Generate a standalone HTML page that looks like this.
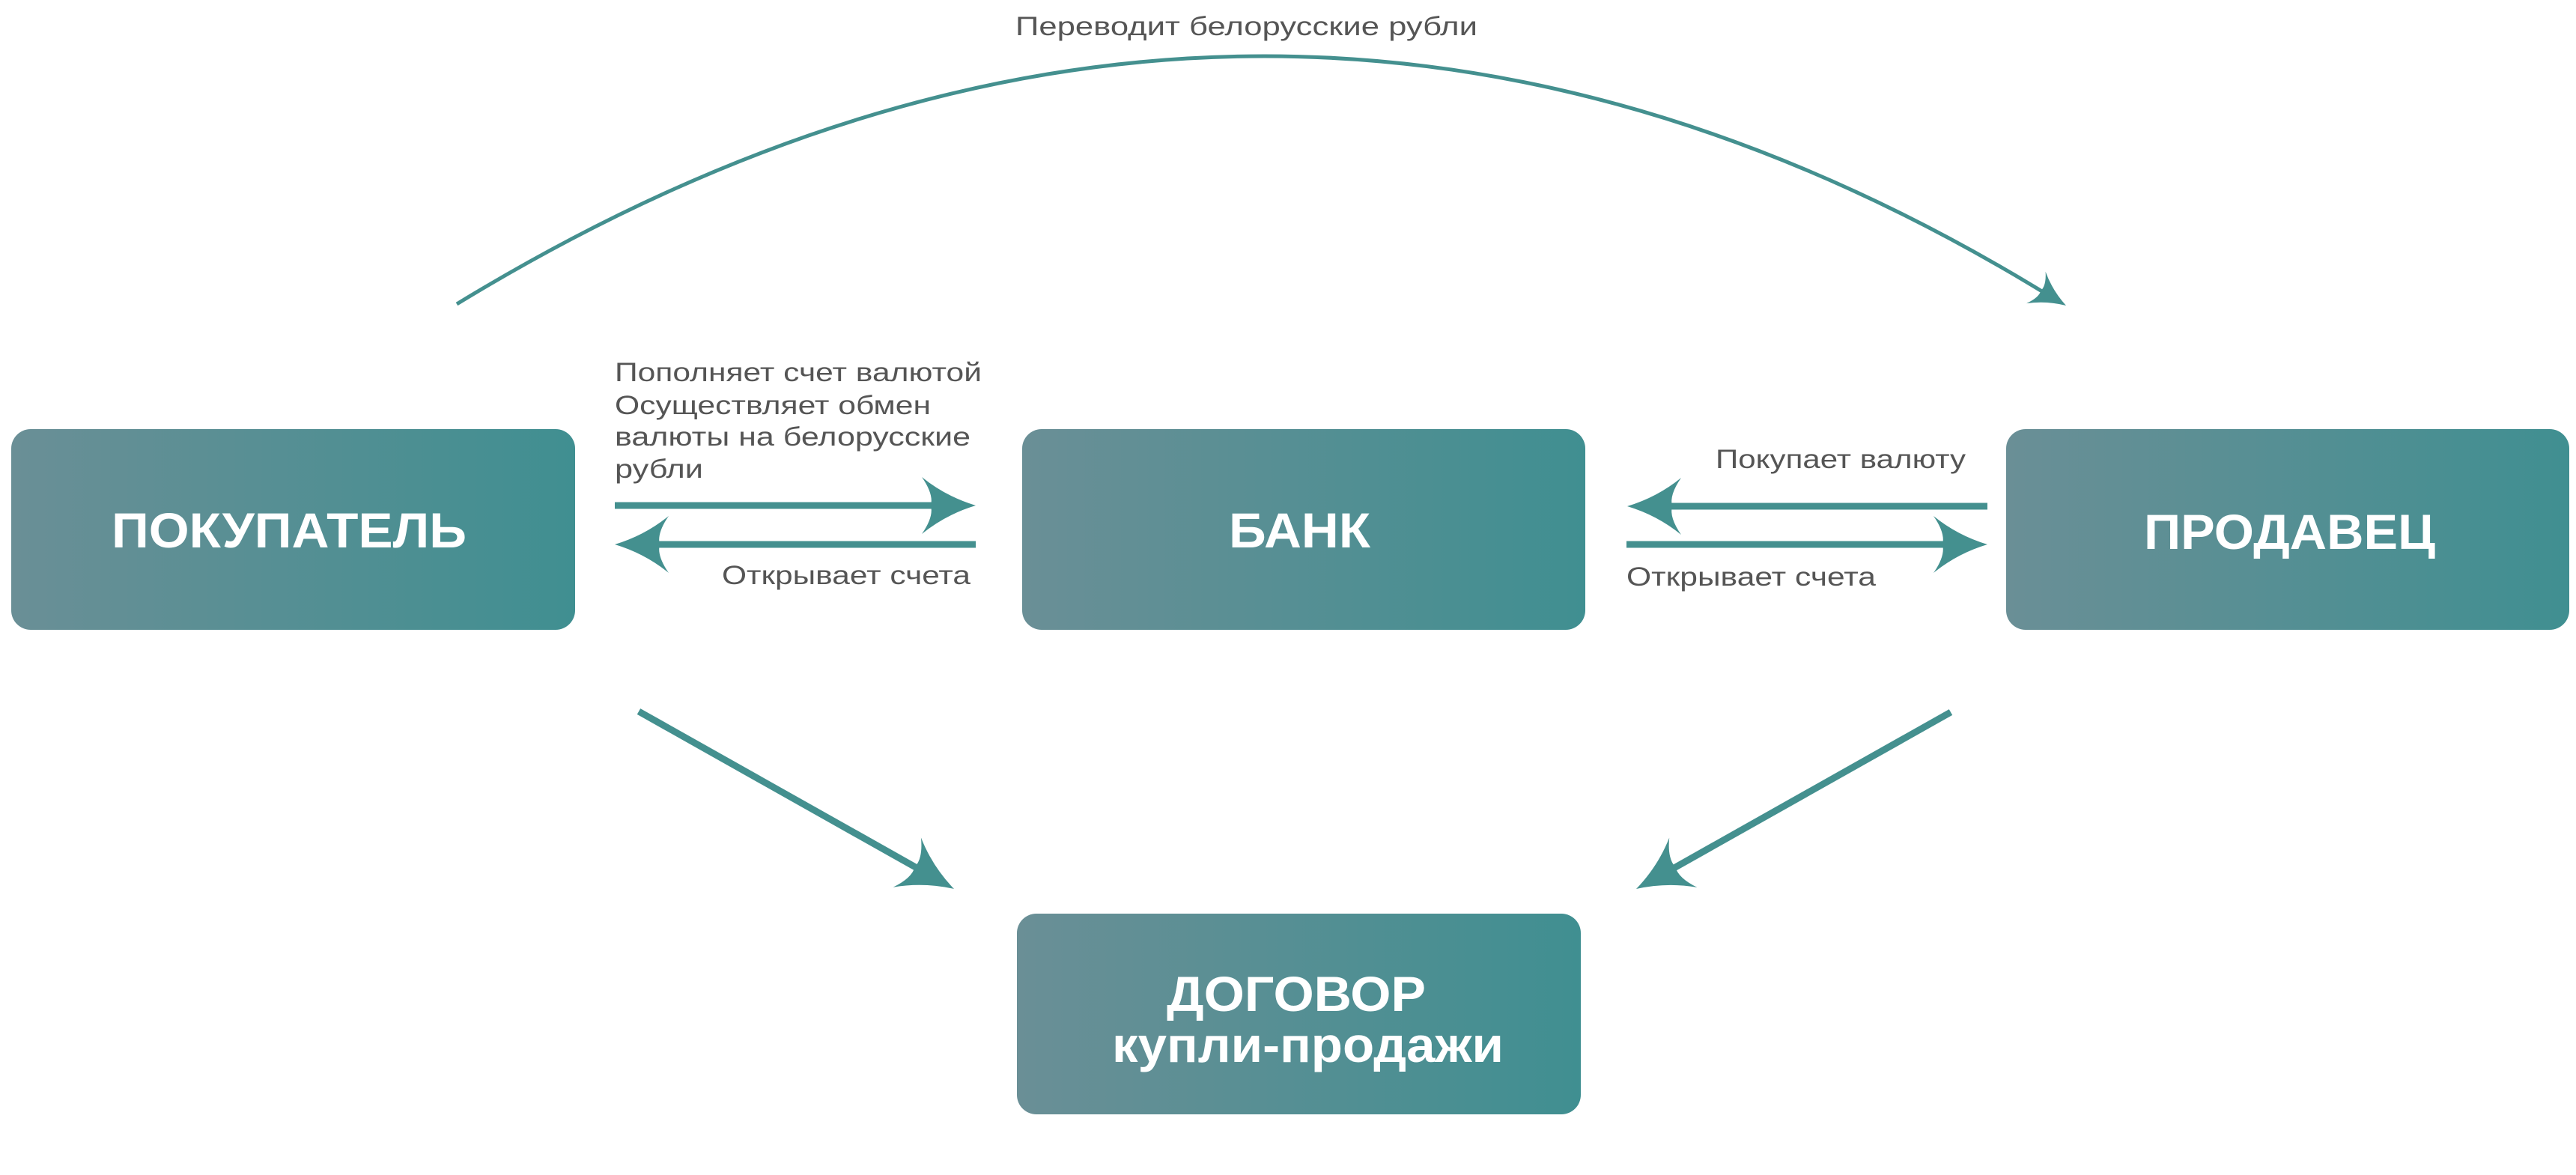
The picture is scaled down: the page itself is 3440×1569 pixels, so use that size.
<!DOCTYPE html>
<html><head><meta charset="utf-8"><style>
html,body{margin:0;padding:0;background:#fff;}
svg{display:block;}
</style></head><body>
<svg width="3440" height="1569" viewBox="0 0 3440 1569" xmlns="http://www.w3.org/2000/svg">
<defs>
<linearGradient id="g" x1="0" y1="0" x2="1" y2="0">
<stop offset="0" stop-color="#6a8f96"/>
<stop offset="1" stop-color="#408f91"/>
</linearGradient>
<path id="ah" d="M0,0 Q-40,-12 -72,-38 Q-56,-15 -60,0 Q-56,15 -72,38 Q-40,12 0,0Z" fill="#44908f"/>
</defs>

<rect x="15" y="573" width="753" height="268" rx="26" fill="url(#g)"/>
<rect x="1365" y="573" width="752" height="268" rx="26" fill="url(#g)"/>
<rect x="2679" y="573" width="752" height="268" rx="26" fill="url(#g)"/>
<rect x="1358" y="1220" width="753" height="268" rx="26" fill="url(#g)"/>

<g font-family="Liberation Sans, sans-serif" font-weight="bold" fill="#fff" font-size="66">
<text x="149" y="731" textLength="474" lengthAdjust="spacingAndGlyphs">ПОКУПАТЕЛЬ</text>
<text x="1641" y="731" textLength="189" lengthAdjust="spacingAndGlyphs">БАНК</text>
<text x="2863" y="733" textLength="389" lengthAdjust="spacingAndGlyphs">ПРОДАВЕЦ</text>
<text x="1558" y="1350" textLength="346" lengthAdjust="spacingAndGlyphs">ДОГОВОР</text>
<text x="1485" y="1418" textLength="523" lengthAdjust="spacingAndGlyphs">купли-продажи</text>
</g>

<g font-family="Liberation Sans, sans-serif" fill="#555" font-size="35">
<text x="1356" y="47" textLength="617" lengthAdjust="spacingAndGlyphs">Переводит белорусские рубли</text>
<text x="821" y="509" textLength="490" lengthAdjust="spacingAndGlyphs">Пополняет счет валютой</text>
<text x="821" y="553" textLength="422" lengthAdjust="spacingAndGlyphs">Осуществляет обмен</text>
<text x="821" y="595" textLength="475" lengthAdjust="spacingAndGlyphs">валюты на белорусские</text>
<text x="821" y="638" textLength="118" lengthAdjust="spacingAndGlyphs">рубли</text>
<text x="964" y="780" textLength="332" lengthAdjust="spacingAndGlyphs">Открывает счета</text>
<text x="2291" y="625" textLength="334" lengthAdjust="spacingAndGlyphs">Покупает валюту</text>
<text x="2172" y="782" textLength="333" lengthAdjust="spacingAndGlyphs">Открывает счета</text>
</g>

<g stroke="#44908f" fill="none">
<path d="M610,406 Q1685,-250 2735,394" stroke-width="5"/>
<line x1="821" y1="675" x2="1250" y2="675" stroke-width="9"/>
<line x1="870" y1="727" x2="1303" y2="727" stroke-width="9"/>
<line x1="2225" y1="676" x2="2654" y2="676" stroke-width="9"/>
<line x1="2172" y1="727" x2="2600" y2="727" stroke-width="9"/>
<line x1="853" y1="950" x2="1235" y2="1165" stroke-width="9"/>
<line x1="2605" y1="951" x2="2225" y2="1165" stroke-width="9"/>
</g>

<use href="#ah" transform="translate(2759,408) rotate(31) scale(0.65)"/>
<use href="#ah" transform="translate(1303,675)"/>
<use href="#ah" transform="translate(821,727) rotate(180)"/>
<use href="#ah" transform="translate(2173,676) rotate(180)"/>
<use href="#ah" transform="translate(2654,727)"/>
<use href="#ah" transform="translate(1274,1187) rotate(29.4)"/>
<use href="#ah" transform="translate(2185,1187) rotate(150.7)"/>
</svg>
</body></html>
